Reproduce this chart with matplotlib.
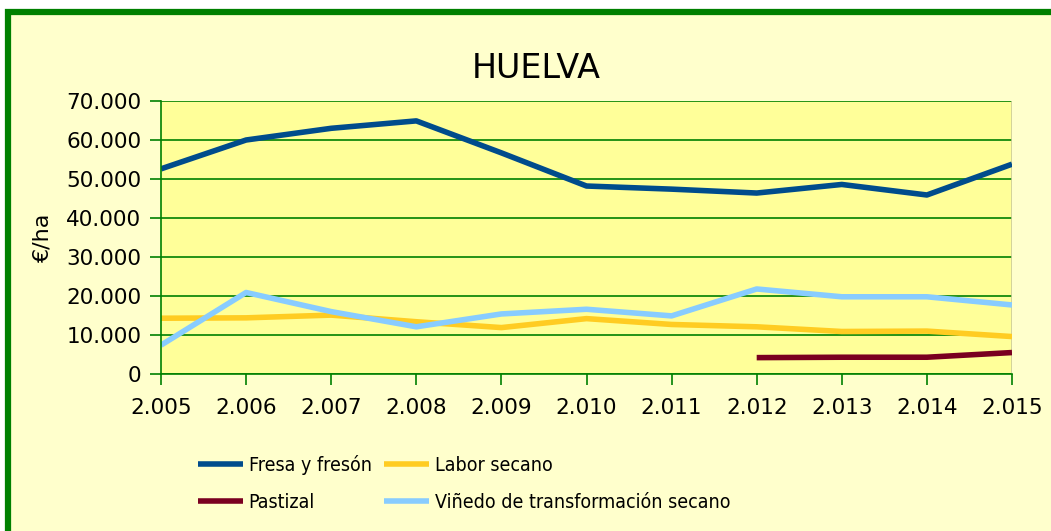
import matplotlib.pyplot as plt
from matplotlib.patches import Rectangle

# Data (€/ha)
years = [2005, 2006, 2007, 2008, 2009, 2010, 2011, 2012, 2013, 2014, 2015]
year_labels = ["2.005", "2.006", "2.007", "2.008", "2.009", "2.010",
               "2.011", "2.012", "2.013", "2.014", "2.015"]
fresa = [52600, 60000, 63000, 64900, 56700, 48200, 47400, 46400, 48600, 45900, 53800]
labor = [14300, 14400, 15100, 13400, 11900, 14200, 12700, 12100, 10900, 11000, 9600]
pastizal_years = [2012, 2013, 2014, 2015]
pastizal = [4200, 4300, 4300, 5500]
vinedo = [7400, 20900, 16000, 12100, 15400, 16600, 14900, 21800, 19800, 19800, 17700]

green = "#008000"

fig = plt.figure(figsize=(10.51, 5.31), dpi=100, facecolor="white")

# outer chart frame (behind the axes)
fig.patches.append(Rectangle((8 / 1051, -0.1), 1.2, (531 - 12) / 531 + 0.1,
                             transform=fig.transFigure, facecolor="#FFFFCC",
                             edgecolor=green, linewidth=4.5, zorder=-5))

ax = fig.add_axes([161 / 1051, 1 - 374 / 531, (1012 - 161) / 1051, (374 - 101) / 531])
ax.set_facecolor("#FFFF99")

l1, = ax.plot(years, fresa, color="#004C8C", lw=4, label="Fresa y fresón", solid_capstyle="butt")
l2, = ax.plot(years, labor, color="#FFCC22", lw=4, label="Labor secano", solid_capstyle="butt")
l3, = ax.plot(pastizal_years, pastizal, color="#7A0020", lw=4, label="Pastizal",
              solid_capstyle="butt")
l4, = ax.plot(years, vinedo, color="#88CCFF", lw=4, label="Viñedo de transformación secano",
              solid_capstyle="butt")

ax.set_xlim(2005, 2015)
ax.set_ylim(0, 70000)
ax.set_xticks(years)
ax.set_xticklabels(year_labels)
ax.set_yticks(range(0, 70001, 10000))
ax.set_yticklabels(["0"] + [f"{v // 1000}.000" for v in range(10000, 70001, 10000)])
ax.grid(axis="y", color=green, lw=1.2)
ax.set_axisbelow(True)

for s in ["top", "right"]:
    ax.spines[s].set_visible(False)
for s in ["left", "bottom"]:
    ax.spines[s].set_color(green)
    ax.spines[s].set_linewidth(1.2)
ax.axvline(2015, color="#CCCC99", lw=1.2, zorder=1)

ax.tick_params(axis="both", colors=green, length=8, width=1.2, labelsize=15.5,
               labelcolor="black", direction="out")
ax.tick_params(axis="x", pad=9)
ax.tick_params(axis="y", pad=6)

ax.set_ylabel("€/ha", fontsize=16, labelpad=10)
fig.text(536 / 1051, 1 - 68 / 531, "HUELVA", fontsize=24, ha="center", va="center")

# legend fills by column, so order the handles to get the reference rows
ax.legend([l1, l3, l2, l4], [l.get_label() for l in (l1, l3, l2, l4)],
          loc="upper left", bbox_to_anchor=(198 / 1051, 1 - 455 / 531),
          bbox_transform=fig.transFigure, ncol=2, frameon=False,
          prop={"family": "DejaVu Sans", "stretch": "condensed", "size": 14},
          borderpad=0, borderaxespad=0,
          handlelength=2.3, columnspacing=0.65, handletextpad=0.3, labelspacing=0.9)

fig.savefig("out.png", dpi=100, facecolor="white")
